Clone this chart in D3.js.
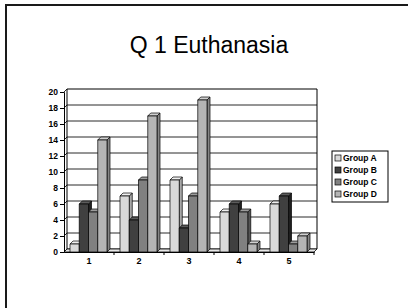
<!DOCTYPE html>
<html>
<head>
<meta charset="utf-8">
<script src="https://cdn.jsdelivr.net/npm/d3@7"></script>
<style>
  body { margin: 0; background: #fff; }
  svg { display: block; }
</style>
</head>
<body>
<script>
// chart data
const categories = ["1", "2", "3", "4", "5"];
const seriesNames = ["Group A", "Group B", "Group C", "Group D"];
const groupA = [1, 7, 9, 5, 6];
const groupB = [6, 4, 3, 6, 7];
const groupC = [5, 9, 7, 5, 1];
const groupD = [14, 17, 19, 1, 2];
const yTicks = [0, 2, 4, 6, 8, 10, 12, 14, 16, 18, 20];

const series = [groupA, groupB, groupC, groupD];
// front / top / side shades for each series
const shades = [
  ["#d9d9d9", "#efefef", "#a8a8a8"],
  ["#404040", "#5c5c5c", "#1f1f1f"],
  ["#808080", "#9c9c9c", "#555555"],
  ["#b5b5b5", "#d0d0d0", "#858585"]
];

const width = 408, height = 308;
const dx = 3, dy = -3;   // 3D depth offset
const font = "Liberation Sans, Arial, sans-serif";

const svg = d3.select("body").append("svg")
  .attr("width", width)
  .attr("height", height);

// slide frame
svg.append("rect")
  .attr("x", 6).attr("y", 5)
  .attr("width", 500).attr("height", 400)
  .attr("fill", "none")
  .attr("stroke", "#1a1a1a")
  .attr("stroke-width", 2);

// title
svg.append("text")
  .attr("x", 209).attr("y", 53)
  .attr("text-anchor", "middle")
  .attr("font-family", font)
  .attr("font-size", "23px")
  .attr("fill", "#000")
  .text("Q 1 Euthanasia");

const x = d3.scaleBand().domain(categories).range([64, 314]);
const y = d3.scaleLinear().domain([0, 20]).range([252, 92]);

const inner = d3.scaleBand().domain(d3.range(series.length))
  .range([6, 43]);

// back wall gridlines
const grid = svg.append("g");
yTicks.forEach(v => {
  grid.append("line")
    .attr("x1", 64 + dx).attr("x2", 314 + dx)
    .attr("y1", y(v) + dy).attr("y2", y(v) + dy)
    .attr("stroke", v === 20 ? "#000" : "#2a2a2a")
    .attr("stroke-width", 1);
  grid.append("line")
    .attr("x1", 64).attr("x2", 64 + dx)
    .attr("y1", y(v)).attr("y2", y(v) + dy)
    .attr("stroke", "#2a2a2a");
});
// back wall right edge and left wall back edge
grid.append("line")
  .attr("x1", 314 + dx).attr("x2", 314 + dx)
  .attr("y1", y(20) + dy).attr("y2", y(0) + dy)
  .attr("stroke", "#000");
grid.append("line")
  .attr("x1", 64 + dx).attr("x2", 64 + dx)
  .attr("y1", y(20) + dy).attr("y2", y(0) + dy)
  .attr("stroke", "#000");

// floor slab
const y0 = y(0);
svg.append("path")
  .attr("d", `M64,${y0} L${64 + dx},${y0 + dy} L${314 + dx},${y0 + dy} L314,${y0} Z`)
  .attr("fill", "#e6e6e6")
  .attr("stroke", "#000")
  .attr("stroke-width", 0.8);

// bars
const bars = svg.append("g");
categories.forEach((c, ci) => {
  series.forEach((s, si) => {
    const x0 = x(c) + inner(si);
    const w = inner.bandwidth();
    const yt = y(s[ci]);
    const [front, top, side] = shades[si];
    const g = bars.append("g")
      .attr("stroke", "#000")
      .attr("stroke-width", 0.7)
      .attr("stroke-linejoin", "round");
    // side face
    g.append("path")
      .attr("d", `M${x0 + w},${yt} L${x0 + w + dx},${yt + dy} L${x0 + w + dx},${y0 + dy} L${x0 + w},${y0} Z`)
      .attr("fill", side);
    // top face
    g.append("path")
      .attr("d", `M${x0},${yt} L${x0 + dx},${yt + dy} L${x0 + w + dx},${yt + dy} L${x0 + w},${yt} Z`)
      .attr("fill", top);
    // front face
    g.append("rect")
      .attr("x", x0).attr("y", yt)
      .attr("width", w).attr("height", y0 - yt)
      .attr("fill", front);
  });
});

// value axis
const yAxis = svg.append("g")
  .attr("transform", "translate(64,0)")
  .call(d3.axisLeft(y).tickValues(yTicks).tickSize(4).tickPadding(2));
yAxis.select(".domain").attr("stroke", "#000");
yAxis.selectAll("text")
  .attr("font-family", font)
  .attr("font-size", "8.5px")
  .attr("font-weight", "bold")
  .attr("fill", "#000");

// category axis
const xAxis = svg.append("g")
  .attr("transform", `translate(0,${y0})`)
  .call(d3.axisBottom(x).tickSize(0).tickPadding(6));
xAxis.select(".domain").attr("stroke", "#000");
xAxis.selectAll("text")
  .attr("font-family", font)
  .attr("font-size", "9px")
  .attr("font-weight", "bold")
  .attr("fill", "#000");
categories.forEach(c => {
  xAxis.append("line")
    .attr("x1", x(c) + x.step()).attr("x2", x(c) + x.step())
    .attr("y1", 0).attr("y2", 3)
    .attr("stroke", "#000");
});

// legend
const legend = svg.append("g").attr("transform", "translate(332,151)");
legend.append("rect")
  .attr("width", 56).attr("height", 51)
  .attr("fill", "#fff")
  .attr("stroke", "#000")
  .attr("stroke-width", 1);
seriesNames.forEach((name, i) => {
  const row = legend.append("g").attr("transform", `translate(3,${7 + i * 12})`);
  row.append("rect")
    .attr("x", 0).attr("y", -3)
    .attr("width", 6).attr("height", 6)
    .attr("fill", shades[i][0])
    .attr("stroke", "#000")
    .attr("stroke-width", 0.7);
  row.append("text")
    .attr("x", 8).attr("y", 3)
    .attr("font-family", font)
    .attr("font-size", "8.5px")
    .attr("font-weight", "bold")
    .attr("fill", "#000")
    .text(name);
});
</script>
</body>
</html>
